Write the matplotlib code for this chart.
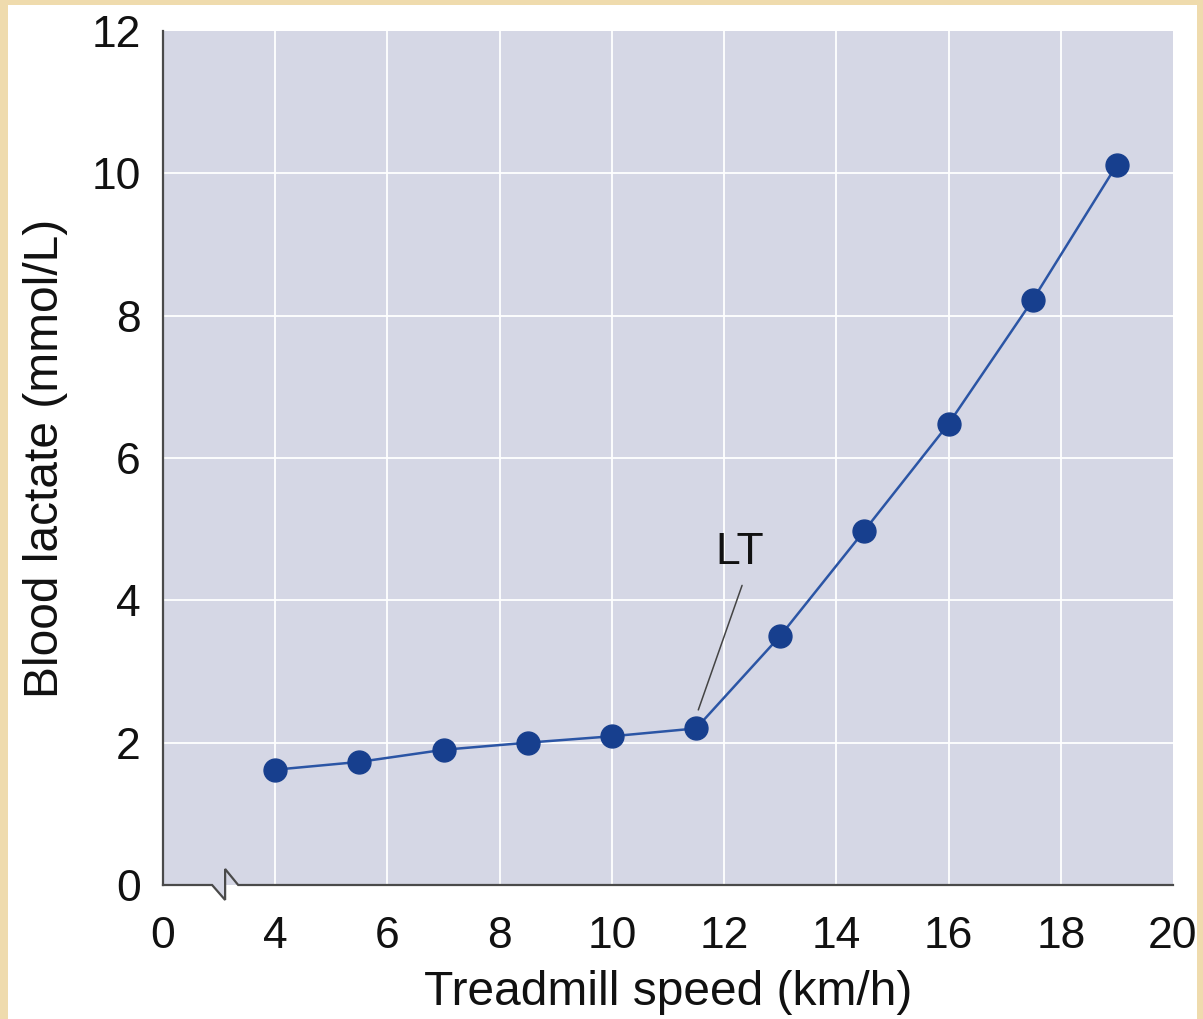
import numpy as np
import matplotlib
matplotlib.use("Agg")
import matplotlib.pyplot as plt
from matplotlib.patches import Rectangle, Polygon

plt.rcParams['font.family'] = ['Liberation Sans', 'DejaVu Sans']

# data
speed = [4, 5.5, 7, 8.5, 10, 11.5, 13, 14.5, 16, 17.5, 19]
lactate = [1.62, 1.73, 1.9, 2.0, 2.09, 2.2, 3.5, 4.98, 6.48, 8.22, 10.12]
xticks = [2, 4, 6, 8, 10, 12, 14, 16, 18, 20]
xticklabels = ["0", "4", "6", "8", "10", "12", "14", "16", "18", "20"]
yticks = [0, 2, 4, 6, 8, 10, 12]

fig = plt.figure(figsize=(12.03, 10.19), dpi=100)
fig.patch.set_facecolor("#efdbad")
# white panel inside the parchment frame
fig.patches.append(Rectangle((8 / 1203, 0), 1189 / 1203, 1 - 5 / 1019,
                             transform=fig.transFigure, facecolor="white",
                             edgecolor="none", zorder=-10))

ax = fig.add_axes([163 / 1203, 1 - 885 / 1019, 1010 / 1203, 854 / 1019])
ax.set_facecolor("#d5d7e5")
ax.set_xlim(2, 20)
ax.set_ylim(0, 12)

ax.set_xticks(xticks)
ax.set_xticklabels(xticklabels)
ax.set_yticks(yticks)
ax.tick_params(length=0, labelsize=32, colors="#111111")
ax.tick_params(axis="x", pad=22)
ax.tick_params(axis="y", pad=16)

for x in xticks[1:-1]:
    ax.axvline(x, color="white", lw=1.3, zorder=1)
for y in yticks[1:-1]:
    ax.axhline(y, color="white", lw=1.3, zorder=1)

for s in ["top", "right", "bottom"]:
    ax.spines[s].set_visible(False)
ax.spines["left"].set_color("#4a4a4a")
ax.spines["left"].set_linewidth(1.6)

# bottom axis with break mark
bx = [2, 2.875, 3.107, 3.107, 3.34, 20]
by = [0, 0, -0.21, 0.225, 0, 0]
ax.add_patch(Polygon([(2.875, 0), (3.107, -0.21), (3.107, 0)], closed=True,
                     facecolor="#d5d7e5", edgecolor="none", clip_on=False, zorder=2))
ax.plot(bx, by, color="#4a4a4a", lw=1.6, clip_on=False, zorder=3,
        solid_joinstyle="miter")

ax.plot(speed, lactate, color="#2b55a5", lw=1.8, marker="o", markersize=16.5,
        markerfacecolor="#173f8e", markeredgecolor="#173f8e", zorder=4, clip_on=False)

# lactate threshold label and leader line
ax.text(12.27, 4.67, "LT", fontsize=32, ha="center", va="center", color="#111111")
ax.annotate("", xy=(11.54, 2.46), xytext=(12.32, 4.21),
            arrowprops=dict(arrowstyle="-", color="#444444", lw=1.1,
                            shrinkA=0, shrinkB=0))

ax.set_xlabel("Treadmill speed (km/h)", fontsize=34.5, color="#111111", labelpad=10)
ax.set_ylabel("Blood lactate (mmol/L)", fontsize=34.5, color="#111111", labelpad=17)

fig.savefig("out.png", dpi=100, facecolor=fig.get_facecolor())
